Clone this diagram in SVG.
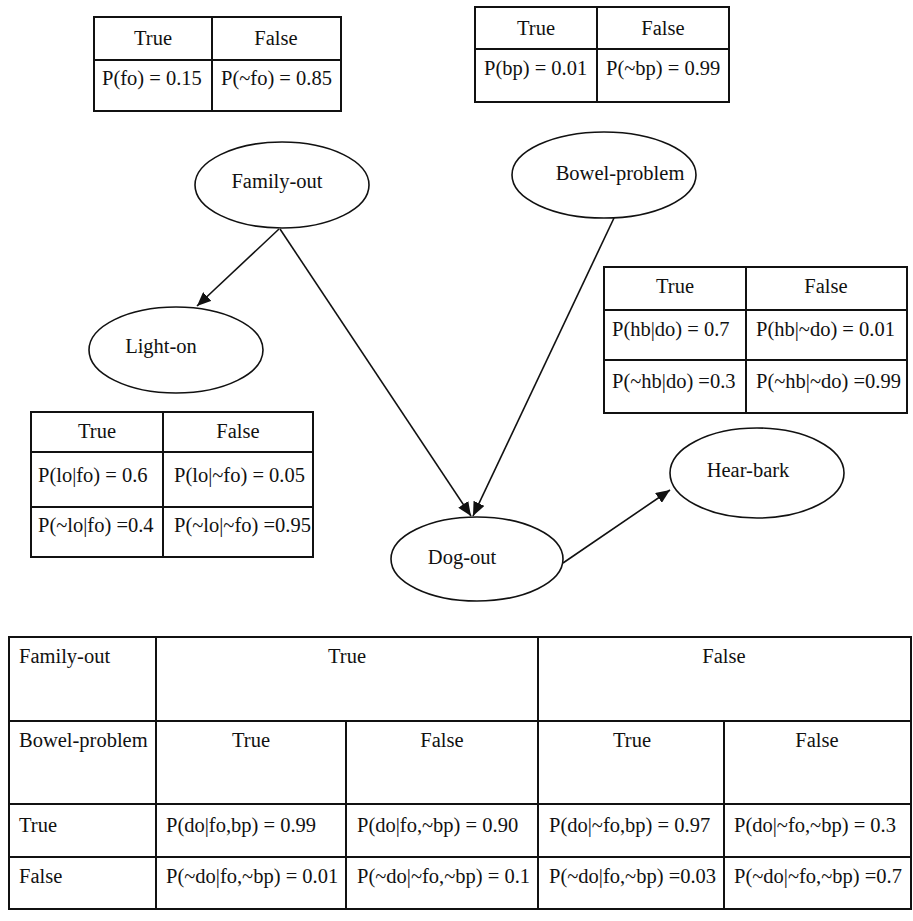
<svg xmlns="http://www.w3.org/2000/svg" width="913" height="921" viewBox="0 0 913 921">
  <style>
    text { font-size: 20.5px; fill: #111; }
    .c { text-anchor: middle; }
    .grid { fill: none; stroke: #111; stroke-width: 2; }
    .node { fill: #fff; stroke: #111; stroke-width: 1.6; }
    .edge { stroke: #111; stroke-width: 1.6; fill: none; marker-end: url(#arrow); }
  </style>
  <defs>
    <marker id="arrow" markerUnits="userSpaceOnUse" markerWidth="14" markerHeight="12" viewBox="0 0 14 12" refX="14" refY="6" orient="auto">
      <path d="M0,0 L14,6 L0,12 Z" fill="#111"/>
    </marker>
  </defs>
  <rect width="913" height="921" fill="#fff"/>

  <!-- prior: family-out -->
  <g id="cpt-fo">
    <rect class="grid" x="94" y="17" width="247" height="94"/>
    <line class="grid" x1="94" y1="60" x2="341" y2="60"/>
    <line class="grid" x1="212" y1="17" x2="212" y2="111"/>
    <text font-family="Liberation Serif" class="c" x="153" y="45">True</text>
    <text font-family="Liberation Serif" class="c" x="276" y="45">False</text>
    <text font-family="Liberation Serif" x="102" y="85">P(fo) = 0.15</text>
    <text font-family="Liberation Serif" x="221" y="85">P(~fo) = 0.85</text>
  </g>

  <!-- prior: bowel-problem -->
  <g id="cpt-bp">
    <rect class="grid" x="475" y="7" width="254" height="95"/>
    <line class="grid" x1="475" y1="49" x2="729" y2="49"/>
    <line class="grid" x1="597" y1="7" x2="597" y2="102"/>
    <text font-family="Liberation Serif" class="c" x="536" y="35">True</text>
    <text font-family="Liberation Serif" class="c" x="663" y="35">False</text>
    <text font-family="Liberation Serif" x="484" y="75">P(bp) = 0.01</text>
    <text font-family="Liberation Serif" x="606" y="75">P(~bp) = 0.99</text>
  </g>

  <!-- conditional: hear-bark given dog-out -->
  <g id="cpt-hb">
    <rect class="grid" x="604" y="267" width="303" height="146"/>
    <line class="grid" x1="604" y1="310" x2="907" y2="310"/>
    <line class="grid" x1="604" y1="360" x2="907" y2="360"/>
    <line class="grid" x1="746" y1="267" x2="746" y2="413"/>
    <text font-family="Liberation Serif" class="c" x="675" y="293">True</text>
    <text font-family="Liberation Serif" class="c" x="826" y="293">False</text>
    <text font-family="Liberation Serif" x="612" y="336">P(hb|do) = 0.7</text>
    <text font-family="Liberation Serif" x="756" y="336">P(hb|~do) = 0.01</text>
    <text font-family="Liberation Serif" x="612" y="388">P(~hb|do) =0.3</text>
    <text font-family="Liberation Serif" x="756" y="388">P(~hb|~do) =0.99</text>
  </g>

  <!-- conditional: light-on given family-out -->
  <g id="cpt-lo">
    <rect class="grid" x="31" y="412" width="282" height="145"/>
    <line class="grid" x1="31" y1="452" x2="313" y2="452"/>
    <line class="grid" x1="31" y1="507" x2="313" y2="507"/>
    <line class="grid" x1="163" y1="412" x2="163" y2="557"/>
    <text font-family="Liberation Serif" class="c" x="97" y="438">True</text>
    <text font-family="Liberation Serif" class="c" x="238" y="438">False</text>
    <text font-family="Liberation Serif" x="38" y="482">P(lo|fo) = 0.6</text>
    <text font-family="Liberation Serif" x="174" y="482">P(lo|~fo) = 0.05</text>
    <text font-family="Liberation Serif" x="38" y="532">P(~lo|fo) =0.4</text>
    <text font-family="Liberation Serif" x="174" y="532">P(~lo|~fo) =0.95</text>
  </g>

  <!-- connectors -->
  <g id="edges">
    <line class="edge" x1="279" y1="229" x2="197" y2="306"/>
    <line class="edge" x1="280" y1="229" x2="471" y2="516"/>
    <line class="edge" x1="614" y1="218" x2="473" y2="516"/>
    <line class="edge" x1="563" y1="563" x2="670" y2="490"/>
  </g>

  <!-- nodes -->
  <g id="family-out">
    <ellipse class="node" cx="282" cy="185" rx="87" ry="43"/>
    <text font-family="Liberation Serif" class="c" x="277" y="188">Family-out</text>
  </g>
  <g id="bowel-problem">
    <ellipse class="node" cx="604" cy="175" rx="92" ry="43"/>
    <text font-family="Liberation Serif" class="c" x="620" y="180">Bowel-problem</text>
  </g>
  <g id="light-on">
    <ellipse class="node" cx="176" cy="350" rx="87" ry="43"/>
    <text font-family="Liberation Serif" class="c" x="161" y="353">Light-on</text>
  </g>
  <g id="dog-out">
    <ellipse class="node" cx="477" cy="559" rx="86" ry="42"/>
    <text font-family="Liberation Serif" class="c" x="462" y="564">Dog-out</text>
  </g>
  <g id="hear-bark">
    <ellipse class="node" cx="757" cy="473" rx="87" ry="45"/>
    <text font-family="Liberation Serif" class="c" x="748" y="477">Hear-bark</text>
  </g>

  <!-- conditional: dog-out given family-out and bowel-problem -->
  <g id="cpt-do">
    <rect class="grid" x="9" y="637" width="902" height="272"/>
    <line class="grid" x1="9" y1="721" x2="911" y2="721"/>
    <line class="grid" x1="9" y1="804" x2="911" y2="804"/>
    <line class="grid" x1="9" y1="857" x2="911" y2="857"/>
    <line class="grid" x1="156" y1="637" x2="156" y2="909"/>
    <line class="grid" x1="538" y1="637" x2="538" y2="909"/>
    <line class="grid" x1="346" y1="721" x2="346" y2="909"/>
    <line class="grid" x1="724" y1="721" x2="724" y2="909"/>
    <text font-family="Liberation Serif" x="19" y="663">Family-out</text>
    <text font-family="Liberation Serif" class="c" x="347" y="663">True</text>
    <text font-family="Liberation Serif" class="c" x="724" y="663">False</text>
    <text font-family="Liberation Serif" x="19" y="747">Bowel-problem</text>
    <text font-family="Liberation Serif" class="c" x="251" y="747">True</text>
    <text font-family="Liberation Serif" class="c" x="442" y="747">False</text>
    <text font-family="Liberation Serif" class="c" x="632" y="747">True</text>
    <text font-family="Liberation Serif" class="c" x="817" y="747">False</text>
    <text font-family="Liberation Serif" x="19" y="832">True</text>
    <text font-family="Liberation Serif" x="166" y="832">P(do|fo,bp) = 0.99</text>
    <text font-family="Liberation Serif" x="357" y="832">P(do|fo,~bp) = 0.90</text>
    <text font-family="Liberation Serif" x="549" y="832">P(do|~fo,bp) = 0.97</text>
    <text font-family="Liberation Serif" x="734" y="832">P(do|~fo,~bp) = 0.3</text>
    <text font-family="Liberation Serif" x="19" y="883">False</text>
    <text font-family="Liberation Serif" x="166" y="883">P(~do|fo,~bp) = 0.01</text>
    <text font-family="Liberation Serif" x="357" y="883">P(~do|~fo,~bp) = 0.1</text>
    <text font-family="Liberation Serif" x="549" y="883">P(~do|fo,~bp) =0.03</text>
    <text font-family="Liberation Serif" x="734" y="883">P(~do|~fo,~bp) =0.7</text>
  </g>
</svg>
